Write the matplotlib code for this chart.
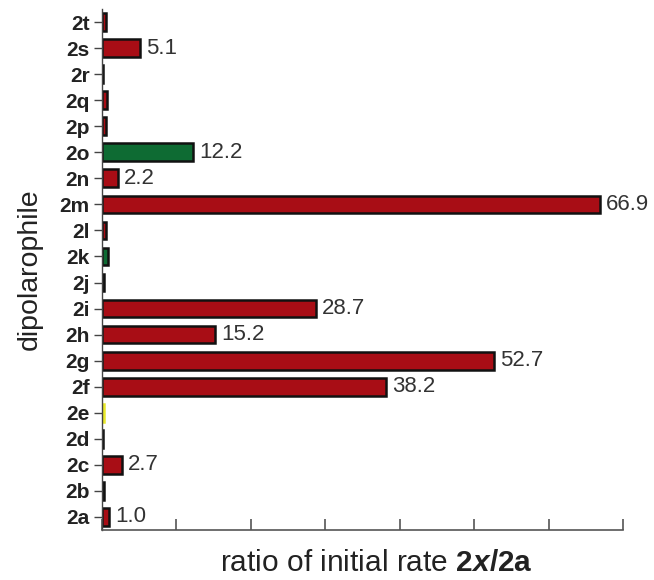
import numpy as np
import matplotlib.pyplot as plt

plt.rcParams['font.family'] = ['Liberation Sans', 'DejaVu Sans']
plt.rcParams['mathtext.fontset'] = 'custom'
plt.rcParams['mathtext.rm'] = 'Liberation Sans'
plt.rcParams['mathtext.bf'] = 'Liberation Sans:bold'
plt.rcParams['mathtext.bfit'] = 'Liberation Sans:bold:italic'

# data
labels = ['2a', '2b', '2c', '2d', '2e', '2f', '2g', '2h', '2i', '2j',
          '2k', '2l', '2m', '2n', '2o', '2p', '2q', '2r', '2s', '2t']
ratios = [1.0, 0.2, 2.7, 0.1, 0.2, 38.2, 52.7, 15.2, 28.7, 0.2,
          0.8, 0.5, 66.9, 2.2, 12.2, 0.5, 0.7, 0.1, 5.1, 0.6]
kinds = ['r', 'r', 'r', 'r', 'y', 'r', 'r', 'r', 'r', 'g',
         'g', 'r', 'r', 'r', 'g', 'r', 'r', 'r', 'r', 'r']
shown = {'2a': '1.0', '2c': '2.7', '2f': '38.2', '2g': '52.7', '2h': '15.2',
         '2i': '28.7', '2m': '66.9', '2n': '2.2', '2o': '12.2', '2s': '5.1'}

colmap = {'r': '#a80d15', 'g': '#0e6b33', 'y': '#e8e82a'}

fig = plt.figure(figsize=(6.54, 5.8), dpi=100)
ax = fig.add_axes([0.156, 0.0862, 0.7966, 0.8983])

y = np.arange(len(labels))
for i, (lab, v, k) in enumerate(zip(labels, ratios, kinds)):
    ec = '#111111' if k != 'y' else '#e8e82a'
    ax.barh(i, v, height=0.68, color=colmap[k], edgecolor=ec, linewidth=1.8)
    if lab in shown:
        ax.text(v + 0.8, i, shown[lab], va='center', ha='left',
                fontsize=16, color='#333333')

ax.set_xlim(0, 70)
ax.set_ylim(-0.5, 19.5)
ax.set_xticks(np.arange(0, 71, 10))
ax.set_xticklabels([])
ax.set_yticks(y)
ax.set_yticklabels(labels, fontsize=15, fontweight='bold', color='#222222')

for s in ['top', 'right']:
    ax.spines[s].set_visible(False)
ax.spines['left'].set_color('#444444')
ax.spines['bottom'].set_color('#555555')
ax.spines['left'].set_linewidth(1.0)
ax.spines['bottom'].set_linewidth(1.2)
ax.tick_params(axis='x', direction='in', length=8, width=1.2, color='#555555')
ax.tick_params(axis='y', direction='out', length=6, width=1.0, color='#444444', pad=3)

ax.set_xlabel(r'ratio of initial rate $\mathbf{2}\mathbfit{x}\mathbf{/2a}$', fontsize=21.5, color='#222222')
ax.xaxis.set_label_coords(0.526, -0.036, transform=ax.transAxes)
ax.set_ylabel('dipolarophile', fontsize=20.5, color='#222222', labelpad=12)

fig.savefig('out.png', dpi=100)
